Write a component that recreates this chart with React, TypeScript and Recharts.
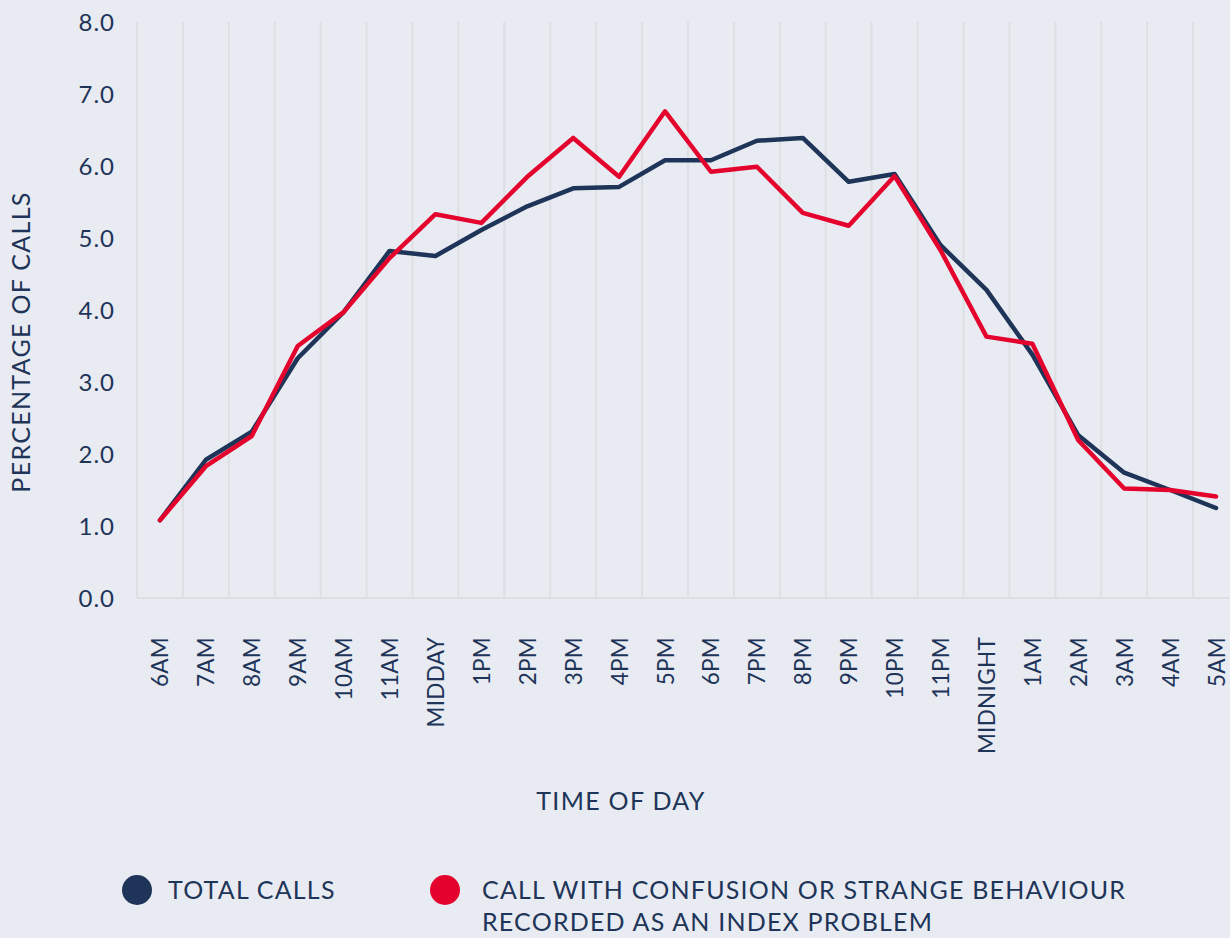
import React from "react";
import { CartesianGrid, Line, LineChart, XAxis, YAxis } from "recharts";

const hours = [
  "6AM", "7AM", "8AM", "9AM", "10AM", "11AM", "MIDDAY", "1PM", "2PM", "3PM", "4PM", "5PM",
  "6PM", "7PM", "8PM", "9PM", "10PM", "11PM", "MIDNIGHT", "1AM", "2AM", "3AM", "4AM", "5AM",
];

const totalCalls = [
  1.08, 1.92, 2.31, 3.33, 3.97, 4.82, 4.75, 5.11, 5.44, 5.69, 5.71, 6.08,
  6.08, 6.35, 6.39, 5.78, 5.89, 4.9, 4.28, 3.38, 2.26, 1.74, 1.5, 1.25,
];

const confusionCalls = [
  1.08, 1.83, 2.25, 3.5, 3.97, 4.72, 5.33, 5.21, 5.85, 6.39, 5.85, 6.76,
  5.92, 5.99, 5.35, 5.17, 5.86, 4.83, 3.63, 3.53, 2.19, 1.52, 1.5, 1.41,
];

const yTicks = [0, 1, 2, 3, 4, 5, 6, 7, 8];

const NAVY = "#1e3458";
const RED = "#e4032c";
const GRID = "#dddfe3";
const TEXT = "#1e3458";
const FONT = "Lato, 'Noto Sans', sans-serif";

const data = hours.map((hour, i) => ({
  idx: i,
  hour,
  total: totalCalls[i],
  confusion: confusionCalls[i],
}));

const centerTicks = hours.map((_, i) => i);
const boundaryTicks = [...hours.map((_, i) => i - 0.5), hours.length - 0.5];

function HourTick(props: any) {
  const { x, y, payload } = props;
  return (
    <text
      x={x}
      y={y + 31}
      transform={`rotate(-90, ${x}, ${y + 31})`}
      textAnchor="end"
      dominantBaseline="central"
      fill={TEXT}
      fontSize={22.5}
      fontFamily={FONT}
      letterSpacing={0.3}
    >
      {hours[payload.value]}
    </text>
  );
}

export default function App() {
  return (
    <div
      style={{
        position: "absolute",
        left: 0,
        top: 0,
        width: 1230,
        height: 938,
        overflow: "hidden",
        background: "#e8ebf2",
        fontFamily: FONT,
        color: TEXT,
      }}
    >
      <LineChart
        width={1250}
        height={760}
        data={data}
        margin={{ top: 22, right: 11, bottom: 0, left: 0 }}
      >
        <CartesianGrid xAxisId="grid" horizontal={false} stroke={GRID} strokeWidth={2} />
        <XAxis
          xAxisId="grid"
          dataKey="idx"
          type="number"
          domain={[-0.5, hours.length - 0.5]}
          ticks={boundaryTicks}
          tickFormatter={() => ""}
          tickSize={29}
          tickLine={{ stroke: GRID, strokeWidth: 2 }}
          axisLine={false}
          height={0}
        />
        <XAxis
          dataKey="idx"
          type="number"
          domain={[-0.5, hours.length - 0.5]}
          ticks={centerTicks}
          interval={0}
          tick={<HourTick />}
          tickLine={false}
          axisLine={{ stroke: GRID, strokeWidth: 2 }}
          height={162}
        />
        <YAxis
          domain={[0, 8]}
          ticks={yTicks}
          tickFormatter={(v: number) => v.toFixed(1)}
          tick={{ fill: TEXT, fontSize: 24, fontFamily: FONT, letterSpacing: 1 }}
          tickLine={false}
          axisLine={false}
          tickSize={0}
          tickMargin={22}
          width={137}
        />
        <Line
          dataKey="total"
          stroke={NAVY}
          strokeWidth={4.5}
          dot={false}
          strokeLinejoin="round"
          strokeLinecap="round"
          isAnimationActive={false}
        />
        <Line
          dataKey="confusion"
          stroke={RED}
          strokeWidth={4.5}
          dot={false}
          strokeLinejoin="round"
          strokeLinecap="round"
          isAnimationActive={false}
        />
      </LineChart>

      <div
        style={{
          position: "absolute",
          left: 20,
          top: 342,
          transform: "translate(-50%, -50%) rotate(-90deg)",
          whiteSpace: "nowrap",
          fontSize: 25,
          letterSpacing: 1.3,
        }}
      >
        PERCENTAGE OF CALLS
      </div>

      <div
        style={{
          position: "absolute",
          left: 621,
          top: 800,
          transform: "translate(-50%, -50%)",
          whiteSpace: "nowrap",
          fontSize: 25,
          letterSpacing: 1.3,
        }}
      >
        TIME OF DAY
      </div>

      <div style={{ position: "absolute", left: 122, top: 875, width: 30, height: 30, borderRadius: "50%", background: NAVY }} />
      <div style={{ position: "absolute", left: 168, top: 873, fontSize: 25, letterSpacing: 1.2, lineHeight: "32px", whiteSpace: "nowrap" }}>
        TOTAL CALLS
      </div>
      <div style={{ position: "absolute", left: 430, top: 875, width: 30, height: 30, borderRadius: "50%", background: RED }} />
      <div style={{ position: "absolute", left: 482, top: 873, fontSize: 25, letterSpacing: 1.2, lineHeight: "32px", whiteSpace: "nowrap" }}>
        CALL WITH CONFUSION OR STRANGE BEHAVIOUR
        <br />
        RECORDED AS AN INDEX PROBLEM
      </div>
    </div>
  );
}
